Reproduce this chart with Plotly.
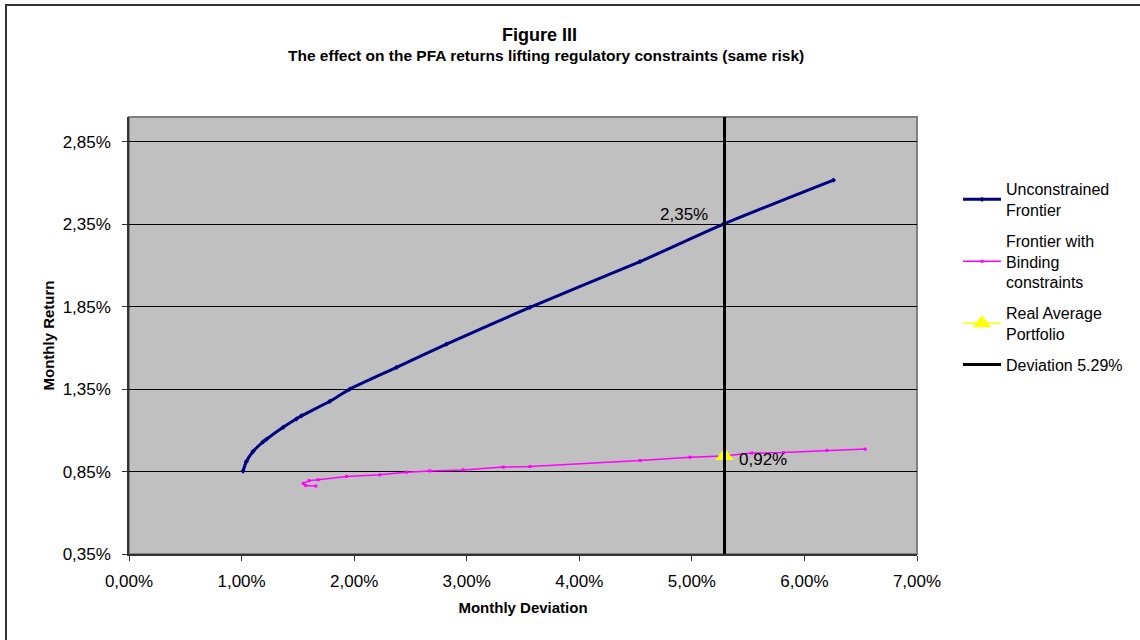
import plotly.graph_objects as go

# ---- data (percent units) ----
unc_x = [1.013, 1.043, 1.102, 1.191, 1.221, 1.369, 1.488, 1.532, 1.784, 1.962,
         2.377, 2.821, 3.562, 4.540, 5.280, 6.258]
unc_y = [0.853, 0.911, 0.972, 1.030, 1.046, 1.118, 1.170, 1.188, 1.276, 1.350,
         1.482, 1.623, 1.846, 2.123, 2.350, 2.617]

bind_x = [1.660, 1.570, 1.548, 1.600, 1.680, 1.932, 2.228, 2.464, 2.672, 2.969,
          3.324, 3.562, 4.540, 4.984, 5.280, 5.532, 5.813, 6.199, 6.540]
bind_y = [0.762, 0.765, 0.778, 0.795, 0.800, 0.820, 0.830, 0.846, 0.854, 0.860,
          0.877, 0.880, 0.917, 0.937, 0.945, 0.962, 0.965, 0.978, 0.986]

real_x = [5.29]
real_y = [0.945]
real_label = "0,92%"

dev_x = [5.29, 5.29]
dev_y = [0.35, 3.0]
dev_label_y = 2.35
dev_label = "2,35%"

x_ticks = [0, 1, 2, 3, 4, 5, 6, 7]
x_ticktext = ["0,00%", "1,00%", "2,00%", "3,00%", "4,00%", "5,00%", "6,00%", "7,00%"]
y_ticks = [0.35, 0.85, 1.35, 1.85, 2.35, 2.85]
y_ticktext = ["0,35%", "0,85%", "1,35%", "1,85%", "2,35%", "2,85%"]

FONT = "Arial, Liberation Sans, sans-serif"

fig = go.Figure()
fig.add_trace(go.Scatter(x=unc_x, y=unc_y, mode="lines+markers",
                         name="Unconstrained<br>Frontier", legendgroup="g1",
                         line=dict(color="#000080", width=3, shape="spline", smoothing=0.6),
                         marker=dict(color="#000080", size=4, symbol="diamond")))
fig.add_trace(go.Scatter(x=bind_x, y=bind_y, mode="lines+markers",
                         name="Frontier with<br>Binding<br>constraints", legendgroup="g2",
                         line=dict(color="#FF00FF", width=1.5),
                         marker=dict(color="#FF00FF", size=3, symbol="square")))
fig.add_trace(go.Scatter(x=real_x, y=real_y, mode="lines+markers",
                         name="Real Average<br>Portfolio", legendgroup="g3",
                         line=dict(color="#FFFF00", width=1.5),
                         marker=dict(color="#FFFF00", size=16, symbol="triangle-up")))
fig.add_trace(go.Scatter(x=dev_x, y=dev_y, mode="lines",
                         name="Deviation 5.29%", legendgroup="g4",
                         line=dict(color="black", width=3)))

# data labels
fig.add_annotation(x=dev_x[0], y=dev_label_y, text=dev_label, showarrow=False,
                   xanchor="right", yanchor="middle", xshift=-15, yshift=10,
                   font=dict(family=FONT, size=17, color="black"))
fig.add_annotation(x=real_x[0], y=real_y[0], text=real_label, showarrow=False,
                   xanchor="left", yanchor="middle", xshift=12, yshift=-4,
                   font=dict(family=FONT, size=17, color="black"))

W, H = 1140, 640
L, R, T, B = 129, 223, 117, 86
PW, PH = W - L - R, H - T - B

def px_x(px):
    return (px - L) / PW

def px_y(py):
    return (H - B - py) / PH

# titles
fig.add_annotation(xref="paper", yref="paper", x=px_x(539), y=px_y(35),
                   text="<b>Figure III</b>", showarrow=False,
                   xanchor="center", yanchor="middle",
                   font=dict(family=FONT, size=18, color="black"))
fig.add_annotation(xref="paper", yref="paper", x=px_x(546), y=px_y(56),
                   text="<b>The effect on the PFA returns lifting regulatory constraints (same risk)</b>",
                   showarrow=False, xanchor="center", yanchor="middle",
                   font=dict(family=FONT, size=15.5, color="black"))

# chart outer border
fig.add_shape(type="rect", xref="paper", yref="paper",
              x0=px_x(6), y0=px_y(650), x1=px_x(1150), y1=px_y(5),
              line=dict(color="#333333", width=2), layer="below")
# plot area border (top / right gray)
fig.add_shape(type="rect", xref="paper", yref="paper", x0=0, y0=0, x1=1, y1=1,
              line=dict(color="#808080", width=2), layer="below")

fig.update_layout(
    width=W, height=H, autosize=False,
    margin=dict(l=L, r=R, t=T, b=B),
    paper_bgcolor="white", plot_bgcolor="#C0C0C0",
    font=dict(family=FONT, size=16, color="black"),
    showlegend=True,
    legend=dict(x=px_x(958), y=px_y(172), xanchor="left", yanchor="top",
                bgcolor="rgba(0,0,0,0)", borderwidth=0,
                font=dict(family=FONT, size=16, color="black"),
                itemwidth=38, tracegroupgap=7),
    xaxis=dict(range=[0, 7], tickvals=x_ticks, ticktext=x_ticktext,
               showgrid=False, zeroline=False, showline=True,
               linecolor="#333333", linewidth=1.5, ticks="outside", ticklen=5,
               tickcolor="#333333", tickfont=dict(family=FONT, size=17),
               ticklabelstandoff=6,
               title=dict(text="<b>Monthly Deviation</b>", standoff=12,
                          font=dict(family=FONT, size=15))),
    yaxis=dict(range=[0.35, 3.0], tickvals=y_ticks, ticktext=y_ticktext,
               showgrid=True, gridcolor="black", gridwidth=1, zeroline=False,
               showline=True, linecolor="#333333", linewidth=1.5,
               ticks="outside", ticklen=5, tickcolor="#333333",
               tickfont=dict(family=FONT, size=17), ticklabelstandoff=8,
               title=dict(text="<b>Monthly Return</b>", standoff=4,
                          font=dict(family=FONT, size=15))),
)

fig.write_html("out.html", config={"displayModeBar": False},
               post_script="document.body.style.margin='0px';document.body.style.overflow='hidden';")
